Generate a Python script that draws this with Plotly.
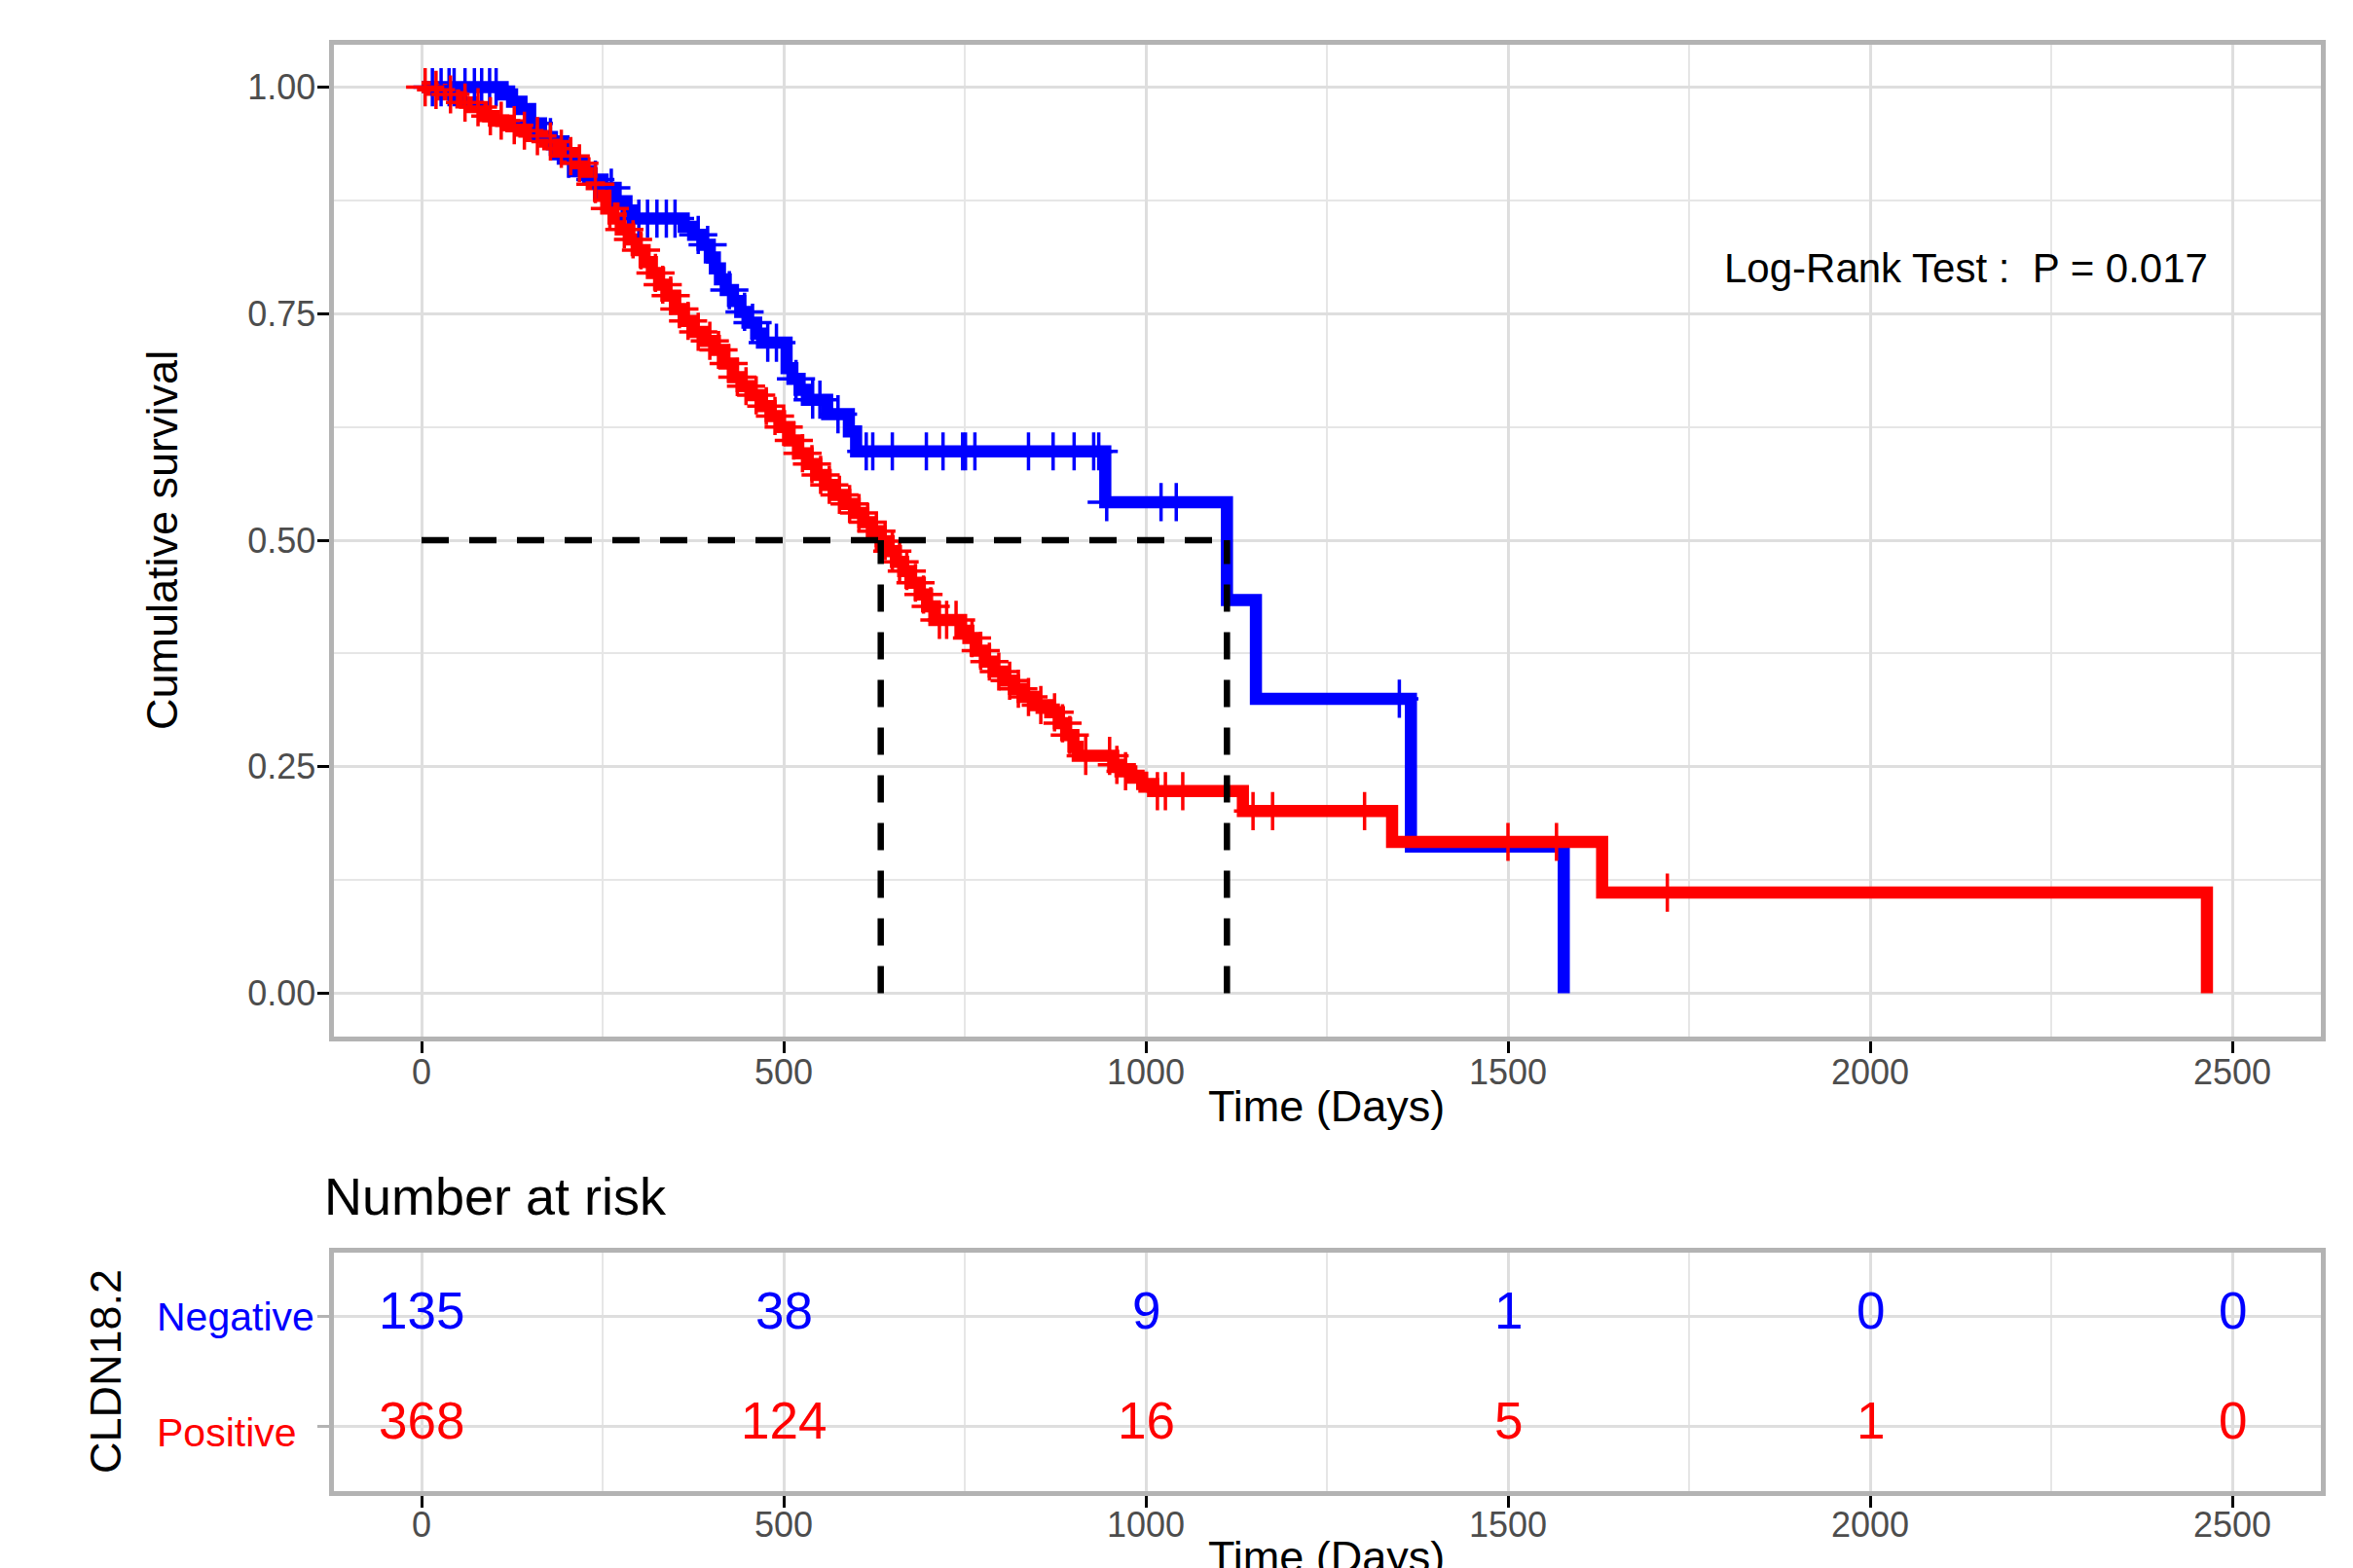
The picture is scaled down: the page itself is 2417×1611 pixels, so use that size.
import plotly.graph_objects as go

# page has an 8px body margin; the figure is sized to fit inside the window
OFF = 8
W, H = 2417 - OFF, 1611 - OFF

# ---------------- data ----------------
# Kaplan-Meier steps, CLDN18.2 Negative (blue)
neg_time = [0, 112, 125, 138, 150, 165, 180, 195, 210, 230, 250, 268, 283, 292,
            362, 375, 388, 398, 405, 412, 420, 430, 440, 450, 462, 470, 504, 512,
            522, 532, 560, 590, 600, 944, 1112, 1152, 1366, 1577]
neg_surv = [1.0, 0.992, 0.984, 0.976, 0.960, 0.945, 0.937, 0.921, 0.907, 0.898,
            0.889, 0.874, 0.864, 0.855, 0.846, 0.837, 0.826, 0.812, 0.800, 0.788,
            0.776, 0.764, 0.752, 0.740, 0.728, 0.718, 0.690, 0.678, 0.666, 0.655,
            0.639, 0.620, 0.598, 0.542, 0.434, 0.325, 0.162, 0.0]
neg_censor = [15, 27, 38, 45, 60, 73, 83, 94, 103, 155, 178, 203, 240, 262, 300,
              312, 325, 338, 350, 382, 395, 425, 446, 457, 478, 490, 517, 540, 550,
              575, 614, 623, 650, 697, 720, 747, 751, 764, 838, 872, 901, 928, 935,
              946, 1021, 1042, 1350]

# Kaplan-Meier steps, CLDN18.2 Positive (red)
pos_time = [0, 15, 30, 45, 55, 70, 85, 100, 118, 135, 150, 170, 185, 200, 212, 225,
            235, 245, 255, 265, 275, 287, 297, 308, 318, 328, 338, 350, 362, 375,
            390, 405, 418, 430, 442, 455, 470, 482, 495, 508, 520, 533, 545, 558,
            570, 585, 598, 610, 622, 634, 645, 655, 665, 675, 688, 698, 708, 745,
            755, 765, 778, 790, 805, 818, 830, 848, 868, 880, 890, 900, 906, 955,
            965, 980, 995, 1010, 1134, 1340, 1630, 2465]
pos_surv = [1.0, 0.997, 0.992, 0.989, 0.983, 0.978, 0.968, 0.963, 0.958, 0.952,
            0.946, 0.940, 0.932, 0.924, 0.916, 0.905, 0.893, 0.880, 0.866, 0.855,
            0.843, 0.832, 0.820, 0.807, 0.795, 0.782, 0.770, 0.755, 0.742, 0.730,
            0.720, 0.710, 0.695, 0.680, 0.670, 0.660, 0.648, 0.637, 0.625, 0.610,
            0.596, 0.584, 0.572, 0.561, 0.550, 0.540, 0.530, 0.520, 0.510, 0.499,
            0.488, 0.476, 0.466, 0.453, 0.440, 0.427, 0.412, 0.400, 0.392, 0.378,
            0.366, 0.355, 0.345, 0.336, 0.327, 0.318, 0.310, 0.298, 0.285, 0.272,
            0.262, 0.252, 0.245, 0.238, 0.231, 0.223, 0.201, 0.167, 0.111, 0.0]
pos_censor = [5, 20, 40, 60, 78, 95, 110, 128, 142, 160, 178, 193, 206, 218, 240,
              260, 280, 292, 303, 323, 333, 344, 356, 368, 382, 398, 410, 424, 436,
              448, 462, 476, 488, 500, 514, 526, 539, 551, 563, 577, 591, 604, 616,
              628, 640, 650, 660, 670, 682, 693, 703, 715, 725, 738, 760, 772, 784,
              797, 812, 824, 838, 855, 874, 885, 895, 917, 950, 960, 972, 1016, 1027,
              1051, 1148, 1175, 1302, 1500, 1567, 1720]

median_times = [634, 1112]
median_level = 0.5

risk_times = [0, 500, 1000, 1500, 2000, 2500]
risk_negative = [135, 38, 9, 1, 0, 0]
risk_positive = [368, 124, 16, 5, 1, 0]
group_names = ["Negative", "Positive"]

x_ticks = [0, 500, 1000, 1500, 2000, 2500]
x_tick_labels = ["0", "500", "1000", "1500", "2000", "2500"]
x_minor = [250, 750, 1250, 1750, 2250]
y_ticks = [0, 0.25, 0.5, 0.75, 1.0]
y_tick_labels = ["0.00", "0.25", "0.50", "0.75", "1.00"]
y_minor = [0.125, 0.375, 0.625, 0.875]

pval_text = "Log-Rank Test :\u00a0\u00a0P = 0.017"

# ---------------- styling ----------------
BLUE = "#0000FF"
RED = "#FF0000"
FONT = "Liberation Sans, Arial, sans-serif"
BORDER = "#B3B3B3"
GRID = "#DEDEDE"
GRID_MINOR = "#E6E6E6"
TICKTXT = "#4D4D4D"
LW = 5  # panel border width


def surv_at(times, survs, t):
    s = survs[0]
    for ti, si in zip(times, survs):
        if ti <= t:
            s = si
        else:
            break
    return s


def px_x(p):  # page pixel -> paper fraction
    return (p - OFF) / W


def px_y(p):
    return 1 - (p - OFF) / H


def inset(lo_px, hi_px, lo_val, hi_val, d):
    """shrink a panel by d px on each side keeping the value-per-pixel scale"""
    k = (hi_val - lo_val) / (hi_px - lo_px)
    return (lo_px + d, hi_px - d), (lo_val + d * k, hi_val - d * k)


# panel boxes (page pixels, border centre) and their value ranges
(xl, xr), x_rng = inset(340, 2386, -125, 2625, LW / 2)
(yt, yb), _ = inset(43, 1067, 0, 1, LW / 2)
_, y_rng_r = inset(43, 1067, -0.05, 1.05, LW / 2)
y_rng = (y_rng_r[0], y_rng_r[1])
(rt, rb), _ = inset(1284, 1534, 0, 1, LW / 2)
_, r_rng = inset(1284, 1534, 0.4, 2.6, LW / 2)

fig = go.Figure()

# survival step lines
fig.add_trace(go.Scatter(x=neg_time, y=neg_surv, mode="lines", line_shape="hv",
                         line=dict(color=BLUE, width=12.5), xaxis="x", yaxis="y",
                         showlegend=False, hoverinfo="skip"))
fig.add_trace(go.Scatter(x=pos_time, y=pos_surv, mode="lines", line_shape="hv",
                         line=dict(color=RED, width=12.5), xaxis="x", yaxis="y",
                         showlegend=False, hoverinfo="skip"))

# censor marks
fig.add_trace(go.Scatter(x=neg_censor, y=[surv_at(neg_time, neg_surv, t) for t in neg_censor],
                         mode="markers",
                         marker=dict(symbol="cross-thin", size=28,
                                     line=dict(color=BLUE, width=3.5)),
                         xaxis="x", yaxis="y", showlegend=False, hoverinfo="skip"))
fig.add_trace(go.Scatter(x=pos_censor, y=[surv_at(pos_time, pos_surv, t) for t in pos_censor],
                         mode="markers",
                         marker=dict(symbol="cross-thin", size=28,
                                     line=dict(color=RED, width=3.5)),
                         xaxis="x", yaxis="y", showlegend=False, hoverinfo="skip"))

# median survival lines
dash_style = dict(color="black", width=6.5, dash="28px,21px")
fig.add_trace(go.Scatter(x=[0, max(median_times)], y=[median_level, median_level],
                         mode="lines", line=dash_style, xaxis="x", yaxis="y",
                         showlegend=False, hoverinfo="skip"))
for mt in median_times:
    fig.add_trace(go.Scatter(x=[mt, mt], y=[0, median_level], mode="lines",
                             line=dash_style, xaxis="x", yaxis="y",
                             showlegend=False, hoverinfo="skip"))

# invisible trace to hold risk-table axes
fig.add_trace(go.Scatter(x=risk_times, y=[1] * len(risk_times), mode="markers",
                         marker=dict(opacity=0), xaxis="x2", yaxis="y2",
                         showlegend=False, hoverinfo="skip"))

annotations = []
# risk numbers
for vals, row, col in [(risk_negative, 2, BLUE), (risk_positive, 1, RED)]:
    for t, v in zip(risk_times, vals):
        annotations.append(dict(x=t, y=row, xref="x2", yref="y2", text=str(v),
                                showarrow=False, xanchor="center", yanchor="middle",
                                yshift=6, font=dict(family=FONT, size=53, color=col)))

# x tick labels (main and risk table)
for t, lab in zip(x_ticks, x_tick_labels):
    for ypix, xref in [(1101, "x"), (1566, "x2")]:
        annotations.append(dict(x=t, y=px_y(ypix), xref=xref, yref="paper", text=lab,
                                showarrow=False, xanchor="center", yanchor="middle",
                                font=dict(family=FONT, size=36, color=TICKTXT)))

# group labels
annotations.append(dict(x=px_x(159), y=px_y(1353), xref="paper", yref="paper",
                        text=group_names[0], showarrow=False, xanchor="left",
                        yanchor="middle", font=dict(family=FONT, size=41, color=BLUE)))
annotations.append(dict(x=px_x(159), y=px_y(1472), xref="paper", yref="paper",
                        text=group_names[1], showarrow=False, xanchor="left",
                        yanchor="middle", font=dict(family=FONT, size=41, color=RED)))

# titles
annotations += [
    dict(x=px_x(166), y=px_y(555), xref="paper", yref="paper", text="Cumulative survival",
         textangle=-90, showarrow=False, xanchor="center", yanchor="middle",
         font=dict(family=FONT, size=45, color="black")),
    dict(x=px_x(1362), y=px_y(1136), xref="paper", yref="paper", text="Time (Days)",
         showarrow=False, xanchor="center", yanchor="middle",
         font=dict(family=FONT, size=45, color="black")),
    dict(x=px_x(331), y=px_y(1229), xref="paper", yref="paper", text="Number at risk",
         showarrow=False, xanchor="left", yanchor="middle",
         font=dict(family=FONT, size=54, color="black")),
    dict(x=px_x(108), y=px_y(1409), xref="paper", yref="paper", text="CLDN18.2",
         textangle=-90, showarrow=False, xanchor="center", yanchor="middle",
         font=dict(family=FONT, size=45, color="black")),
    dict(x=px_x(1362), y=px_y(1599), xref="paper", yref="paper", text="Time (Days)",
         showarrow=False, xanchor="center", yanchor="middle",
         font=dict(family=FONT, size=45, color="black")),
    dict(x=1796, y=0.80, xref="x", yref="y", text=pval_text, showarrow=False,
         xanchor="left", yanchor="middle",
         font=dict(family=FONT, size=42, color="black")),
]

x_dom = [px_x(xl), px_x(xr)]
common_x = dict(range=list(x_rng), tickvals=x_ticks, showticklabels=False,
                ticks="outside", ticklen=12, tickwidth=3, tickcolor="black",
                showgrid=True, gridcolor=GRID, gridwidth=3, zeroline=False,
                showline=True, linecolor=BORDER, linewidth=LW, mirror=True,
                minor=dict(tickvals=x_minor, showgrid=True, gridcolor=GRID_MINOR,
                           gridwidth=2, ticks=""),
                domain=x_dom, fixedrange=True)

fig.update_layout(
    width=W, height=H, autosize=False,
    margin=dict(l=0, r=0, t=0, b=0),
    paper_bgcolor="white", plot_bgcolor="white",
    xaxis=dict(anchor="y", **common_x),
    yaxis=dict(anchor="x", domain=[px_y(yb), px_y(yt)], range=list(y_rng),
               tickvals=y_ticks, ticktext=y_tick_labels, ticks="outside", ticklen=12,
               tickwidth=3, tickcolor="black", ticklabelstandoff=-6,
               tickfont=dict(family=FONT, size=36, color=TICKTXT),
               showgrid=True, gridcolor=GRID, gridwidth=3, zeroline=False,
               showline=True, linecolor=BORDER, linewidth=LW, mirror=True,
               minor=dict(tickvals=y_minor, showgrid=True, gridcolor=GRID_MINOR,
                          gridwidth=2, ticks="")),
    xaxis2=dict(anchor="y2", **common_x),
    yaxis2=dict(anchor="x2", domain=[px_y(rb), px_y(rt)], range=list(r_rng),
                tickvals=[1, 2], ticktext=["", ""], ticks="outside", ticklen=12,
                tickwidth=3, tickcolor=BORDER,
                showgrid=True, gridcolor=GRID, gridwidth=3, zeroline=False,
                showline=True, linecolor=BORDER, linewidth=LW, mirror=True),
    annotations=annotations,
)

fig.write_html("out.html")
